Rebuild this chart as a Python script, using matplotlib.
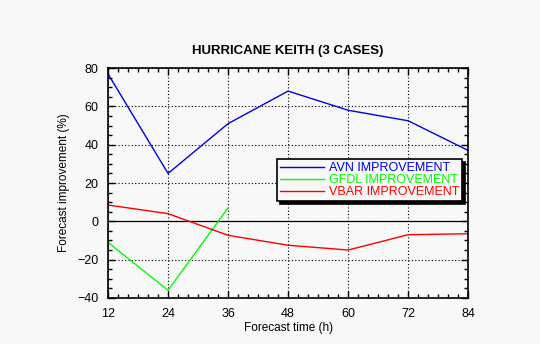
import matplotlib.pyplot as plt
from matplotlib.ticker import MultipleLocator

plt.rcParams['font.family'] = ['Liberation Sans', 'DejaVu Sans']

forecast_hours = [12, 24, 36, 48, 60, 72, 84]
avn_improvement = [77, 25, 51, 68, 58, 52.5, 37]
gfdl_hours = [12, 24, 36]
gfdl_improvement = [-11, -36, 7]
vbar_improvement = [8.5, 4, -7.3, -12.5, -15, -7, -6.5]

bg = '#f8f8f8'
fig = plt.figure(figsize=(5.4, 3.44), dpi=100, facecolor=bg)
ax = fig.add_axes([0.2, 0.134, 0.667, 0.668], facecolor=bg)

ax.plot(forecast_hours, avn_improvement, color='#0000e6', lw=1, label='AVN IMPROVEMENT')
ax.plot(gfdl_hours, gfdl_improvement, color='#00ff00', lw=1, label='GFDL IMPROVEMENT')
ax.plot(forecast_hours, vbar_improvement, color='#ff0000', lw=1, label='VBAR IMPROVEMENT')
ax.axhline(0, color='black', lw=0.9, zorder=1)

ax.set_xlim(12, 84)
ax.set_ylim(-40, 80)
ax.xaxis.set_major_locator(MultipleLocator(12))
ax.xaxis.set_minor_locator(MultipleLocator(2))
ax.yaxis.set_major_locator(MultipleLocator(20))
ax.yaxis.set_minor_locator(MultipleLocator(5))
ax.tick_params(which='both', direction='in', top=True, right=True, labelsize=9, width=1)
ax.tick_params(which='major', length=5, pad=7)
ax.tick_params(which='minor', length=3)
ax.grid(which='major', color='black', ls=(0, (1, 2)), lw=0.8)
for s in ax.spines.values():
    s.set_linewidth(1.2)

ax.set_title('HURRICANE KEITH (3 CASES)', fontsize=9.5, fontweight='bold', pad=10)
ax.set_xlabel('Forecast time (h)', fontsize=8.5, labelpad=2)
ax.set_ylabel('Forecast improvement (%)', fontsize=8.5, labelpad=5)

leg = ax.legend(loc='upper left', bbox_to_anchor=(0.469, 0.604), fontsize=9,
                labelcolor='linecolor', frameon=True, fancybox=False,
                shadow={'color': 'black', 'alpha': 1}, framealpha=1,
                facecolor=bg, edgecolor='black', borderpad=0.25,
                labelspacing=0.0, handlelength=3.5, handletextpad=0.4,
                borderaxespad=0)
leg.get_frame().set_linewidth(1.2)

fig.savefig('out.png', dpi=100, facecolor=bg)
